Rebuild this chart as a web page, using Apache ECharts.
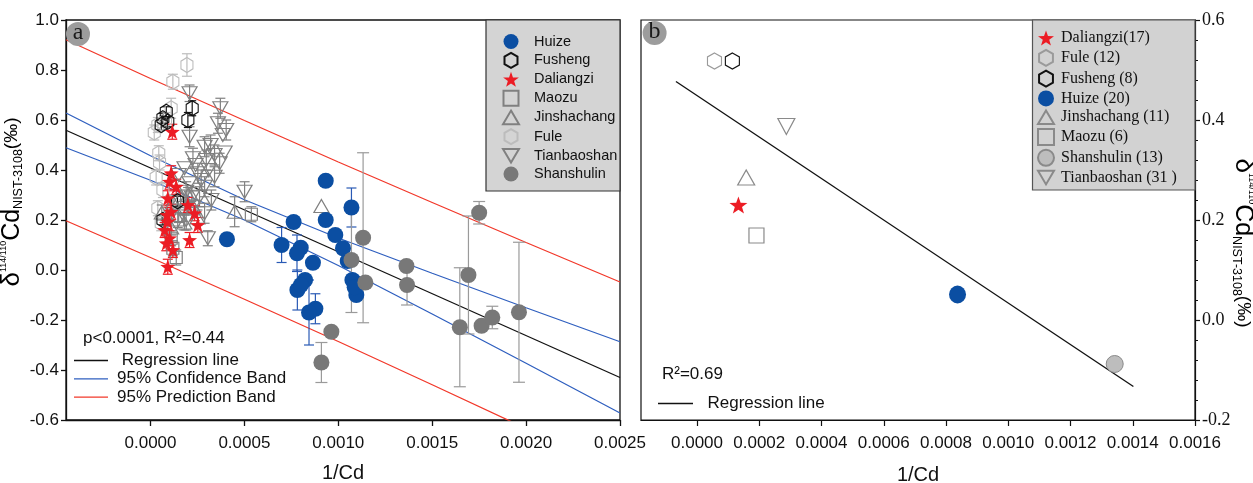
<!DOCTYPE html>
<html><head><meta charset="utf-8">
<script src="https://cdn.jsdelivr.net/npm/echarts@6/dist/echarts.min.js"></script>
<style>html,body{margin:0;padding:0;background:#fff}#c{width:1253px;height:483px}</style>
</head><body><div id="c"></div>
<script>
// ---------- Panel a data: [1/Cd, delta, error] ----------
const huizeA = [[0.000933,0.357,0],[0.00107,0.25,0.078],[0.000933,0.20,0],[0.000762,0.192,0],[0.000984,0.14,0],
  [0.000698,0.10,0.07],[0.0008,0.089,0],[0.00078,0.067,0.073],[0.001025,0.087,0],[0.000865,0.029,0],[0.00105,0.036,0],
  [0.000823,-0.04,0],[0.000782,-0.08,0.08],[0.001075,-0.04,0],[0.001096,-0.10,0],[0.000878,-0.155,0.06],
  [0.000844,-0.17,0.13],[0.000407,0.123,0],[0.000801,-0.06,0],[0.001087,-0.069,0]];
const fushengA = [[0.000222,0.647,0.03],[0.000199,0.6,0.03],[0.000084,0.633,0.02],[0.000066,0.607,0.02],
  [0.000092,0.593,0.02],[0.000057,0.58,0.02],[0.000144,0.275,0.02],[0.000066,0.2,0.02]];
const daliangziA = [[0.000116,0.553,0.03],[0.00011,0.387,0.03],[0.000101,0.353,0.03],[0.000092,0.287,0.03],
  [0.00011,0.233,0.03],[0.000092,0.193,0.03],[0.000075,0.16,0.03],[0.000101,0.127,0.03],[0.000208,0.12,0.03],
  [0.000252,0.18,0.03],[0.000235,0.227,0.03],[0.000199,0.26,0.03],[0.000092,0.013,0.03],[0.000119,0.08,0.03],
  [0.000084,0.107,0.03],[0.000137,0.333,0.03],[0.000088,0.22,0.03]];
const maozuA = [[0.000537,0.223,0.03],[0.00011,0.127,0.03],[0.000119,0.087,0.03],[0.000137,0.05,0.03],
  [0.000145,0.2,0.03],[0.00018,0.25,0.03]];
const jinshachangA = [[0.00091,0.256,0],[0.000448,0.233,0.06],[0.00006,0.23,0.03],[0.00012,0.27,0.03],
  [0.00015,0.22,0.03],[0.00018,0.19,0.03],[0.0002,0.3,0.03],[0.00023,0.25,0.03],[0.00011,0.17,0.03],
  [0.00016,0.29,0.03],[0.00025,0.21,0.03]];
const fuleA = [[0.000194,0.82,0.045],[0.000119,0.753,0.03],[0.00011,0.647,0.04],[0.000039,0.58,0.03],
  [0.00002,0.55,0.03],[0.000044,0.467,0.03],[0.000048,0.43,0.03],[0.000066,0.32,0.03],[0.000039,0.247,0.03],
  [0.000057,0.187,0.03],[0.00003,0.37,0.03],[0.00008,0.6,0.03]];
const tianbaoshanA = [[0.000208,0.707,0.033],[0.000372,0.647,0.04],[0.000359,0.587,0.04],[0.000403,0.56,0.04],
  [0.000385,0.54,0],[0.000288,0.493,0.04],[0.000341,0.46,0.04],[0.000208,0.533,0.04],[0.000226,0.447,0.04],
  [0.000297,0.44,0.04],[0.000368,0.427,0.04],[0.000181,0.407,0],[0.000252,0.387,0.04],[0.000341,0.373,0.04],
  [0.000208,0.347,0],[0.000288,0.333,0.04],[0.00019,0.313,0.04],[0.000261,0.293,0.04],[0.000324,0.28,0.04],
  [0.000226,0.253,0],[0.000288,0.227,0.04],[0.00019,0.2,0.04],[0.000305,0.127,0.03],[0.000501,0.313,0.04],
  [0.000395,0.47,0],[0.00032,0.5,0.04],[0.00024,0.42,0],[0.00027,0.36,0.04],[0.00015,0.38,0],[0.00031,0.4,0],
  [0.00022,0.29,0.04]];
const shanshulinA = [[0.001132,0.129,0.34],[0.001144,-0.05,0],[0.00107,0.04,0.21],[0.001363,0.016,0],
  [0.001366,-0.06,0.08],[0.00175,0.229,0.045],[0.001693,-0.02,0.236],[0.001647,-0.229,0.238],[0.001763,-0.223,0],
  [0.00182,-0.19,0.045],[0.001962,-0.169,0.28],[0.000963,-0.247,0],[0.00091,-0.37,0.08]];

// regression / bands (panel a)
const regA = [[-0.00045,0.559],[0.0025,-0.43]];
const bandX = [-0.00045,0,0.0005,0.001,0.0015,0.002,0.0025];
const confUpper = [0.628,0.457,0.281,0.128,-0.013,-0.151,-0.287];
const confLower = [0.489,0.359,0.200,0.018,-0.176,-0.373,-0.572];
const predUpper = [0.921,0.766,0.598,0.432,0.270,0.110,-0.048];
const predLower = [0.197,0.050,-0.117,-0.286,-0.459,-0.634,-0.811];

// ---------- Panel b data (means) ----------
const daliangziB = [[0.000133,0.23]];
const fuleB = [[0.0000561,0.518]];
const fushengB = [[0.0001136,0.518]];
const huizeB = [[0.000837,0.051]];
const jinshachangB = [[0.000158,0.285]];
const maozuB = [[0.000191,0.169]];
const shanshulinB = [[0.001342,-0.088]];
const tianbaoshanB = [[0.000287,0.387]];
const regB = [[-0.0000677,0.477],[0.001402,-0.133]];

// tick labels
const xTicksA = [0,0.0005,0.001,0.0015,0.002,0.0025];
const xTicksB = [0,0.0002,0.0004,0.0006,0.0008,0.001,0.0012,0.0014,0.0016];

const legendA = ['Huize','Fusheng','Daliangzi','Maozu','Jinshachang','Fule','Tianbaoshan','Shanshulin'];
const legendLinesA = [' Regression line','95% Confidence Band','95% Prediction Band'];
const legendB = ['Daliangzi(17)','Fule (12)','Fusheng (8)','Huize (20)','Jinshachang (11)','Maozu (6)','Shanshulin (13)','Tianbaoshan (31 )'];
const legendLinesB = ['  Regression line'];

const SANS = '"Liberation Sans", Arial, sans-serif';
const SERIF = '"Liberation Serif", "Times New Roman", serif';
const HEX = 'path://M0,-10L8.66,-5L8.66,5L0,10L-8.66,5L-8.66,-5Z';
const STAR = 'path://M0,-10L2.35,-3.24L9.51,-3.09L3.8,1.24L5.88,8.09L0,4L-5.88,8.09L-3.8,1.24L-9.51,-3.09L-2.35,-3.24Z';
const TRI_DOWN = 'path://M-10,-8L10,-8L0,9Z';
const TRI_UP = 'path://M0,-9L10,8L-10,8Z';
const SQ = 'path://M-10,-10L10,-10L10,10L-10,10Z';
const LINE_ICON = 'path://M0,0L40,0L40,1.5L0,1.5Z';

const BLUE = '#0b4ea2', RED = '#ec1c24', GRAY = '#808080', LGRAY = '#bcbcbc', DGRAY = '#787878';
const hollow = c => ({color:'rgba(255,255,255,0)', borderColor:c, borderWidth:1.2, opacity:1});

function scat(name, data, symbol, size, style, xi, z){
  return {type:'scatter', name, xAxisIndex:xi, yAxisIndex:xi, data:data.map(d=>[d[0],d[1]]),
    symbol, symbolSize:size, itemStyle:Object.assign({opacity:1}, style), z:z||3, silent:true, emphasis:{disabled:true}};
}
function errs(name, data, color, cap){
  return {type:'custom', name, xAxisIndex:0, yAxisIndex:0, data, encode:{x:0,y:1}, z:2, silent:true,
    renderItem(params, api){
      const e = api.value(2); if(!e) return;
      const x = api.value(0), y = api.value(1);
      const a = api.coord([x,y+e]), b = api.coord([x,y-e]);
      const st = {stroke:color, lineWidth:1.2};
      return {type:'group', children:[
        {type:'line', shape:{x1:a[0],y1:a[1],x2:b[0],y2:b[1]}, style:st},
        {type:'line', shape:{x1:a[0]-cap,y1:a[1],x2:a[0]+cap,y2:a[1]}, style:st},
        {type:'line', shape:{x1:b[0]-cap,y1:b[1],x2:b[0]+cap,y2:b[1]}, style:st}]};
    }};
}
function line(name, data, color, xi){
  return {type:'line', name, xAxisIndex:xi, yAxisIndex:xi, data, symbol:'none', showSymbol:false, silent:true,
    lineStyle:{color, width:1.3}, itemStyle:{color}, z:1, clip:true, emphasis:{disabled:true}};
}
const zipBand = ys => bandX.map((x,i)=>[x, ys[i]]);

const axText = {color:'#111', fontFamily:SANS, fontSize:17};
const nameRich = {
  d:{fontSize:26, fontFamily:SANS, color:'#111'},
  sup:{fontSize:9, fontFamily:SANS, color:'#111', verticalAlign:'top'},
  c:{fontSize:25, fontFamily:SANS, color:'#111'},
  sub:{fontSize:12.5, fontFamily:SANS, color:'#111', verticalAlign:'bottom'},
  p:{fontSize:19, fontFamily:SANS, color:'#111'}
};
const nameText = '{d|δ}{sup|114/110}{c|Cd}{sub|NIST-3108}{p|(‰)}';

const option = {
  animation:false,
  backgroundColor:'#fff',
  grid:[
    {left:66, top:20, width:554, height:400, show:true, borderColor:'#111', borderWidth:1.3,
      backgroundColor:'rgba(0,0,0,0)', containLabel:false, outerBoundsMode:'none'},
    {left:641, top:20, width:554, height:400, show:true, borderColor:'#111', borderWidth:1.2,
      backgroundColor:'rgba(0,0,0,0)', containLabel:false, outerBoundsMode:'none'}
  ],
  xAxis:[
    {type:'value', gridIndex:0, min:-0.00045, max:0.0025,
      name:'1/Cd', nameLocation:'middle', nameGap:43, nameTextStyle:{fontFamily:SANS, fontSize:20, color:'#111'},
      axisLine:{onZero:false, lineStyle:{color:'#111', width:1.3}},
      axisTick:{inside:false, length:6, customValues:xTicksA, lineStyle:{color:'#111', width:1.3}},
      axisLabel:{...axText, margin:15, customValues:xTicksA, formatter:v=>v.toFixed(4)},
      splitLine:{show:false}},
    {type:'value', gridIndex:1, min:-0.00018, max:0.0016,
      name:'1/Cd', nameLocation:'middle', nameGap:45, nameTextStyle:{fontFamily:SANS, fontSize:20, color:'#111'},
      axisLine:{onZero:false, lineStyle:{color:'#111', width:1.2}},
      axisTick:{inside:false, length:6, customValues:xTicksB, lineStyle:{color:'#111', width:1.2}},
      axisLabel:{...axText, margin:15, customValues:xTicksB, formatter:v=>v.toFixed(4)},
      splitLine:{show:false}}
  ],
  yAxis:[
    {type:'value', gridIndex:0, min:-0.6, max:1.0, interval:0.2,
      axisLine:{show:true, onZero:false, lineStyle:{color:'#111', width:1.3}},
      axisTick:{inside:false, length:5, lineStyle:{color:'#111', width:1.3}},
      axisLabel:{...axText, margin:7, formatter:v=>v.toFixed(1)},
      splitLine:{show:false}},
    {type:'value', gridIndex:1, position:'right', min:-0.2, max:0.6, interval:0.2,
      axisLine:{show:true, onZero:false, lineStyle:{color:'#111', width:1.2}},
      axisTick:{inside:false, length:5, lineStyle:{color:'#111', width:1.2}},
      minorTick:{show:true, splitNumber:5, length:3, lineStyle:{color:'#111', width:1}},
      axisLabel:{color:'#111', fontFamily:SERIF, fontSize:18, margin:7, formatter:v=>v.toFixed(1)},
      splitLine:{show:false}}
  ],
  legend:[
    {data:legendA, orient:'vertical', left:502, top:34, padding:0, itemWidth:16, itemHeight:15, itemGap:2.9,
      selectedMode:false, z:10, textStyle:{fontFamily:SANS, fontSize:14.5, color:'#111', lineHeight:15, padding:[0,0,0,10]}},
    {data:legendLinesA.map(n=>({name:n, icon:LINE_ICON})), orient:'vertical', left:74, top:352, padding:0,
      itemWidth:34, itemHeight:14, itemGap:1.3,
      selectedMode:false, z:10, textStyle:{fontFamily:SANS, fontSize:17, color:'#111', lineHeight:14, padding:[0,0,0,4]}},
    {data:legendB, orient:'vertical', left:1037, top:30, padding:0, itemWidth:16, itemHeight:16, itemGap:2.8,
      selectedMode:false, z:10, textStyle:{fontFamily:SERIF, fontSize:16, color:'#111', lineHeight:16, padding:[0,0,0,2]}},
    {data:legendLinesB.map(n=>({name:n, icon:LINE_ICON})), orient:'vertical', left:658, top:395, padding:0,
      itemWidth:35, itemHeight:14,
      selectedMode:false, z:10, textStyle:{fontFamily:SANS, fontSize:17, color:'#111', lineHeight:14}}
  ],
  graphic:[
    {type:'rect', z:5, shape:{x:486, y:20, width:134, height:171}, style:{fill:'#d4d4d4', stroke:'#333', lineWidth:1.2}},
    {type:'rect', z:5, shape:{x:1032.5, y:20, width:162.5, height:170}, style:{fill:'#d2d2d2', stroke:'#555', lineWidth:1.2}},
    {type:'circle', z:5, shape:{cx:78, cy:34, r:12}, style:{fill:'#9c9c9c'}},
    {type:'text', z:6, x:78, y:33, style:{text:'a', fontFamily:SERIF, fontSize:24, fill:'#1a1a1a', align:'center', verticalAlign:'middle'}},
    {type:'circle', z:5, shape:{cx:654.6, cy:33, r:12}, style:{fill:'#9c9c9c'}},
    {type:'text', z:6, x:654.6, y:32, style:{text:'b', fontFamily:SERIF, fontSize:24, fill:'#1a1a1a', align:'center', verticalAlign:'middle'}},
    {type:'text', z:6, x:83, y:338, style:{text:'p<0.0001, R²=0.44', fontFamily:SANS, fontSize:17, fill:'#111', verticalAlign:'middle'}},
    {type:'text', z:6, x:662, y:374, style:{text:'R²=0.69', fontFamily:SANS, fontSize:17, fill:'#111', verticalAlign:'middle'}},
    {type:'text', z:6, x:12, y:202, rotation:Math.PI/2, style:{text:nameText, rich:nameRich, align:'center', verticalAlign:'middle'}},
    {type:'text', z:6, x:1243, y:243, rotation:-Math.PI/2, style:{text:nameText, rich:nameRich, align:'center', verticalAlign:'middle'}}
  ],
  series:[
    line(legendLinesA[0], regA, '#111', 0),
    line(legendLinesA[1], zipBand(confUpper), '#2f5fbf', 0),
    line(legendLinesA[1], zipBand(confLower), '#2f5fbf', 0),
    line(legendLinesA[2], zipBand(predUpper), '#f2382a', 0),
    line(legendLinesA[2], zipBand(predLower), '#f2382a', 0),
    errs('e-fule', fuleA, LGRAY, 5),
    errs('e-tian', tianbaoshanA, GRAY, 5),
    errs('e-jin', jinshachangA, GRAY, 5),
    errs('e-mao', maozuA, GRAY, 5),
    errs('e-fus', fushengA, '#111', 4),
    errs('e-dal', daliangziA, RED, 5),
    errs('e-hui', huizeA, '#2a5ab5', 5),
    errs('e-sha', shanshulinA, '#9a9a9a', 6),
    scat('Fule', fuleA, HEX, [12,15], hollow(LGRAY), 0),
    scat('Tianbaoshan', tianbaoshanA, TRI_DOWN, [15,13], hollow(GRAY), 0),
    scat('Jinshachang', jinshachangA, TRI_UP, [15,13], hollow(GRAY), 0),
    scat('Maozu', maozuA, SQ, [12,12], hollow(GRAY), 0),
    scat('Fusheng', fushengA, HEX, [12,15], hollow('#111'), 0),
    scat('Daliangzi', daliangziA, STAR, [15,15], {color:RED}, 0, 4),
    scat('Huize', huizeA, 'circle', 16, {color:BLUE}, 0, 4),
    scat('Shanshulin', shanshulinA, 'circle', 16, {color:DGRAY}, 0, 4),
    // panel b
    line(legendLinesB[0], regB, '#111', 1),
    scat(legendB[0], daliangziB, STAR, [18,17], {color:RED}, 1),
    scat(legendB[1], fuleB, HEX, [14,16], hollow('#9a9a9a'), 1),
    scat(legendB[2], fushengB, HEX, [14,16], hollow('#111'), 1),
    scat(legendB[3], huizeB, 'circle', [17,18], {color:BLUE}, 1),
    scat(legendB[4], jinshachangB, TRI_UP, [17,15], hollow('#8a8a8a'), 1),
    scat(legendB[5], maozuB, SQ, [15,15], hollow('#8a8a8a'), 1),
    scat(legendB[6], shanshulinB, 'circle', [17,17], {color:'#bdbdbd', borderColor:'#8a8a8a', borderWidth:1}, 1),
    scat(legendB[7], tianbaoshanB, TRI_DOWN, [17,16], hollow('#8a8a8a'), 1)
  ]
};
const chart = echarts.init(document.getElementById('c'));
chart.setOption(option);
</script>
</body></html>
